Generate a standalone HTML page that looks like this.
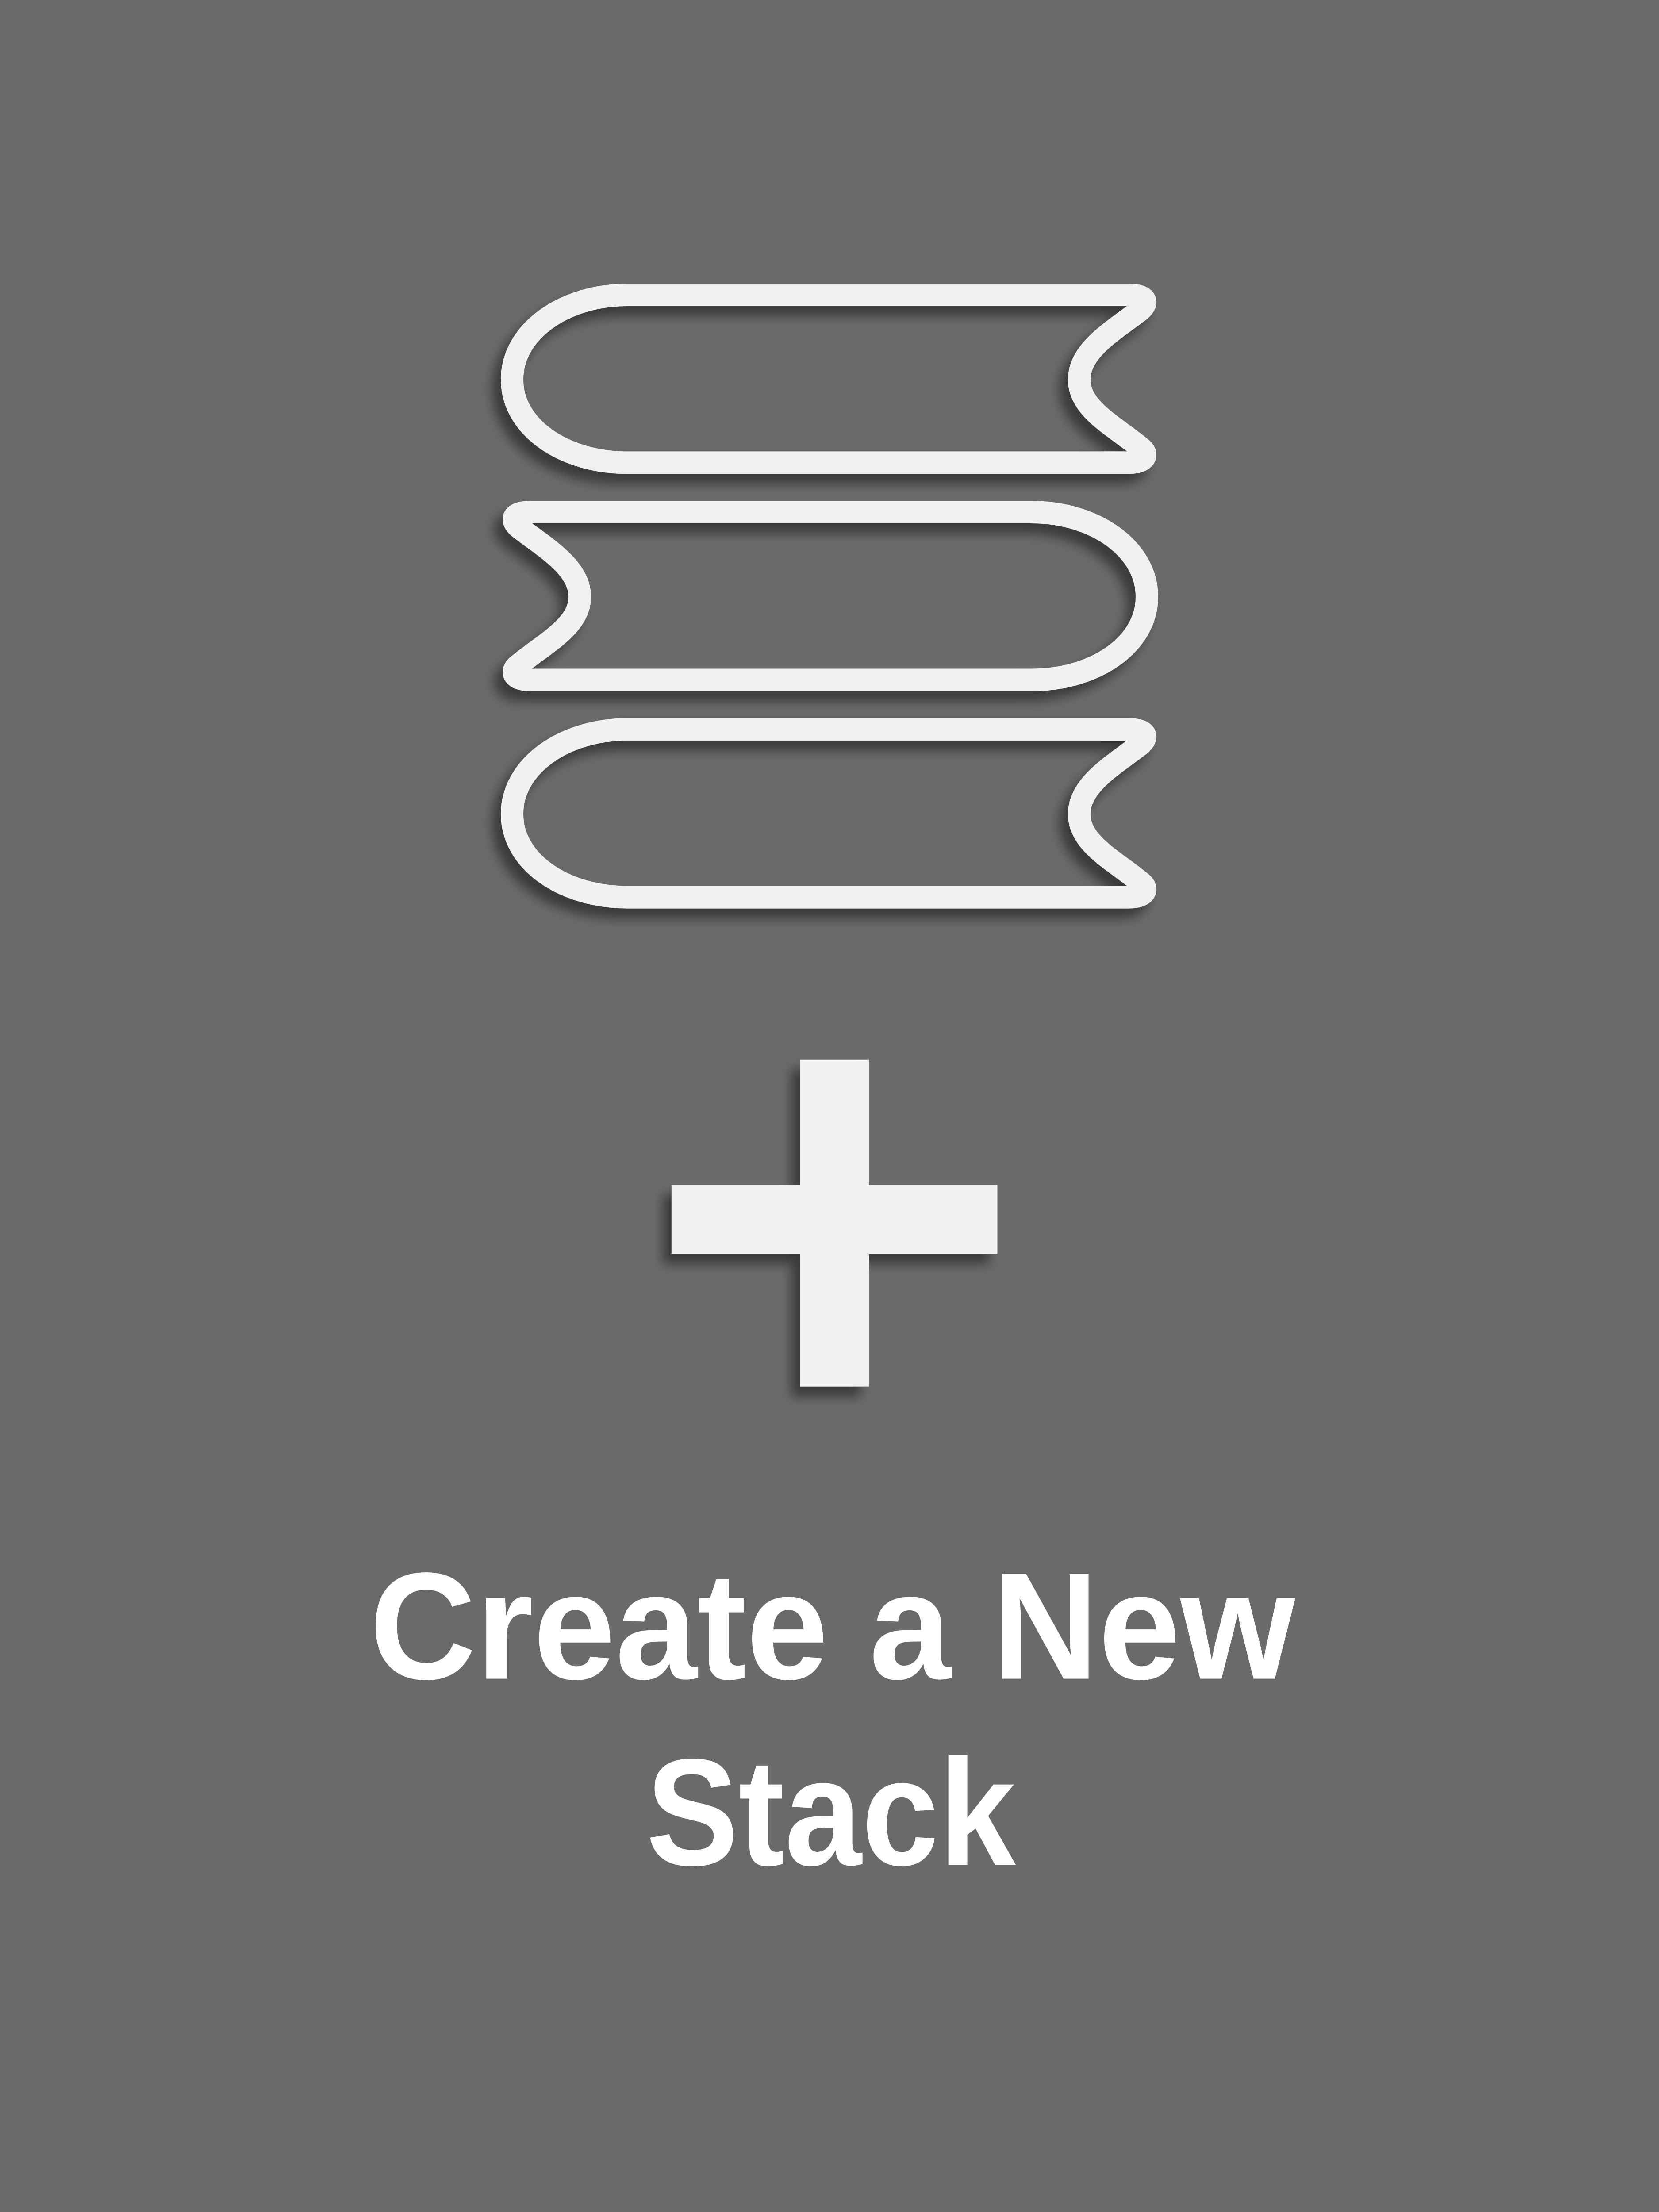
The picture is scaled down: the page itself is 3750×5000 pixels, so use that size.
<!DOCTYPE html>
<html><head><meta charset="utf-8"><style>
html,body{margin:0;padding:0;background:#6a6a6a;}
svg{display:block;}
</style></head><body>
<svg width="3750" height="5000" viewBox="0 0 1176 1568" xmlns="http://www.w3.org/2000/svg">
<defs>
<filter id="sh" x="-20%" y="-20%" width="140%" height="140%">
<feDropShadow dx="-6" dy="7" stdDeviation="4" flood-color="#000" flood-opacity="0.45"/>
</filter>
</defs>
<rect width="1176" height="1568" fill="#6a6a6a"/>
<g fill="none" stroke="#f1f1f1" stroke-width="16" stroke-linejoin="round" stroke-linecap="round" filter="url(#sh)">
<path d="M800,209 L445,209 C400,209 363,235 363,269 C363,303 400,328 445,328 L800,328 C812,328 815,322 808,317 C790,302 765,290 765,269 C765,248 790,234 808,220 C815,214 812,209 800,209 Z"/>
<path d="M376,363 L731,363 C776,363 813,389 813,423 C813,457 776,482 731,482 L376,482 C364,482 361,476 368,471 C386,456 411,444 411,423 C411,402 386,388 368,374 C361,368 364,363 376,363 Z"/>
<path d="M800,517 L445,517 C400,517 363,543 363,577 C363,611 400,636 445,636 L800,636 C812,636 815,630 808,625 C790,610 765,598 765,577 C765,556 790,542 808,528 C815,522 812,517 800,517 Z"/>
</g>
<g fill="#f1f1f1" filter="url(#sh)">
<path d="M567,751 H616 V840 H707 V889 H616 V983 H567 V889 H476 V840 H567 Z"/>
</g>
<g fill="#ffffff" font-family="Liberation Sans, sans-serif" font-weight="bold" font-size="108" text-anchor="middle">
<text x="590" y="1190" textLength="656" lengthAdjust="spacingAndGlyphs">Create a New</text>
<text x="589" y="1322" textLength="262" lengthAdjust="spacingAndGlyphs">Stack</text>
</g>
</svg>
</body></html>
